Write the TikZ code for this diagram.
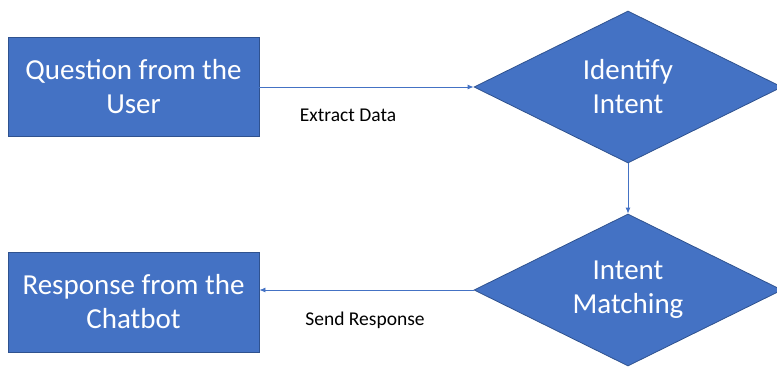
\documentclass[tikz,border=0pt]{standalone}
\usepackage{fontspec}
\setmainfont{Carlito}
\usetikzlibrary{shapes.geometric}
\usetikzlibrary{arrows.meta}
\definecolor{officeblue}{HTML}{4472C4}
\definecolor{officeedge}{HTML}{2F528F}

\begin{document}
\begin{tikzpicture}[x=1pt,y=-1pt,
    stepbox/.style={draw=officeedge, fill=officeblue, line width=0.8pt, text=white,
      minimum width=251pt, minimum height=99pt, inner sep=0pt, align=center,
      font=\fontsize{29}{34}\selectfont},
    decision/.style={diamond, shape aspect=2, draw=officeedge, fill=officeblue, line width=0.8pt, text=white,
      minimum width=308pt, minimum height=152pt, inner sep=0pt, align=center,
      font=\fontsize{29}{34}\selectfont},
    flow/.style={draw=officeblue, line width=0.8pt, -{Latex[length=6pt,width=5pt]}},
    tag/.style={font=\fontsize{19.5}{23}\selectfont, text=black}
  ]
  \useasboundingbox (0,0) rectangle (777,367);
  \clip (0,0) rectangle (777,367);
  \node[stepbox] (question) at (133.5,87) {Question from the\\User};
  \node[stepbox, minimum height=100pt] (response) at (133.5,302) {Response from the\\Chatbot};
  \node[decision] (identify) at (628,87) {Identify\\Intent};
  \node[decision] (matching) at (628,290) {Intent\\Matching};
  \draw[flow] (question.east) -- (identify.west);
  \draw[flow] (identify.south) -- (matching.north);
  \draw[flow] (matching.west) -- (matching.west -| response.east);
  \node[tag] (extract) at (348,115) {Extract Data};
  \node[tag] (send) at (365,320) {Send Response};
\end{tikzpicture}
\end{document}
